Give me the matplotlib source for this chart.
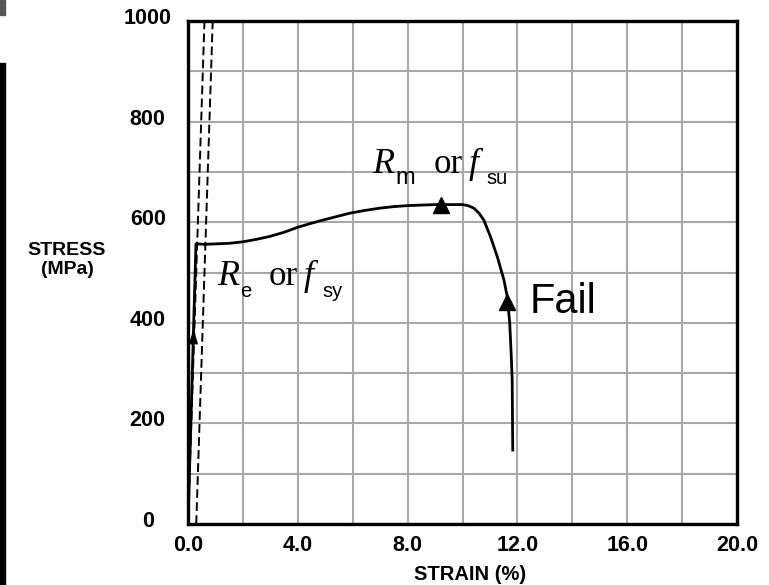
import matplotlib
matplotlib.use("Agg")
import matplotlib.pyplot as plt
from matplotlib.patches import Rectangle
from matplotlib.ticker import MultipleLocator
from matplotlib.transforms import ScaledTranslation

SANS = "Liberation Sans"
SERIF = "Liberation Serif"

# stress-strain curve (strain %, stress MPa)
strain = [0.0, 0.29, 0.6, 1.06, 1.5, 2.0, 2.5, 3.0, 3.5, 4.0, 4.5, 4.9, 5.4,
          5.9, 6.4, 7.0, 7.5, 8.0, 8.5, 9.0, 9.5, 10.0, 10.2, 10.41, 10.6,
          10.78, 11.02, 11.27, 11.51, 11.63, 11.72, 11.78, 11.81, 11.83]
stress = [0, 557, 556, 557, 558, 561, 566, 572, 580, 590, 598, 604, 611,
          618, 623, 628, 631, 633, 634, 635, 635, 635, 633, 628, 618,
          604, 571, 531, 485, 452, 400, 330, 286, 147]

# elastic reference lines (dashed)
offset_a_strain = [0.0, 0.6]
offset_a_stress = [0, 1000]
offset_b_strain = [0.3, 0.9]
offset_b_stress = [0, 1000]

# arrowheads sitting on the curve
arrow_strain = [9.2, 11.62]
arrow_stress = [635, 442]
elastic_arrow_strain = [0.2]
elastic_arrow_stress = [372]

x_ticks = [0, 4, 8, 12, 16, 20]
x_tick_labels = ["0.0", "4.0", "8.0", "12.0", "16.0", "20.0"]
y_ticks = [0, 200, 400, 600, 800, 1000]


def add_label(ax, x, y, text, family, size, style="normal", weight="normal"):
    ax.text(x, y, text, family=family, fontsize=size, style=style, weight=weight,
            ha="left", va="baseline", color="black", zorder=6)


def main():
    fig = plt.figure(figsize=(7.69, 5.85), dpi=100)
    fig.patch.set_facecolor("white")
    ax = fig.add_axes([188 / 769, 1 - 524 / 585, 549 / 769, 503 / 585])

    # scan artifacts at left edge of the original
    fig.patches.append(Rectangle((0, 1 - 15 / 585), 5 / 769, 15 / 585,
                                 transform=fig.transFigure, color="#555555", zorder=0))
    fig.patches.append(Rectangle((0, 0), 5 / 769, 1 - 63 / 585,
                                 transform=fig.transFigure, color="black", zorder=0))

    ax.set_xlim(0, 20)
    ax.set_ylim(0, 1000)
    ax.xaxis.set_major_locator(MultipleLocator(4))
    ax.xaxis.set_minor_locator(MultipleLocator(2))
    ax.yaxis.set_major_locator(MultipleLocator(200))
    ax.yaxis.set_minor_locator(MultipleLocator(100))
    ax.grid(True, which="both", color="#a8a8a8", linewidth=1.5, zorder=0)
    ax.set_axisbelow(True)

    for side in ax.spines.values():
        side.set_linewidth(2.4)
        side.set_color("black")

    ax.plot(offset_a_strain, offset_a_stress, color="black", linewidth=1.4,
            dashes=(4.5, 2.2), zorder=3)
    ax.plot(offset_b_strain, offset_b_stress, color="black", linewidth=1.4,
            dashes=(4.5, 2.2), zorder=3)
    ax.plot(strain, stress, color="black", linewidth=2.0, zorder=4,
            solid_joinstyle="round")
    ax.plot(arrow_strain, arrow_stress, linestyle="none", marker="^",
            markersize=12, color="black", zorder=5)
    ax.plot(elastic_arrow_strain, elastic_arrow_stress, linestyle="none",
            marker=[(0, 1), (-0.6, -1), (0.6, -1), (0, 1)], markersize=9,
            color="black", zorder=5)

    ax.set_xticks(x_ticks)
    ax.set_xticklabels(x_tick_labels)
    ax.set_yticks(y_ticks)
    ax.tick_params(which="both", length=0)
    ax.tick_params(axis="x", pad=8)
    ax.tick_params(axis="y", pad=29)
    for lab in ax.get_xticklabels() + ax.get_yticklabels():
        lab.set_family(SANS)
        lab.set_fontweight("bold")
        lab.set_fontsize(15.5)
    shift = ScaledTranslation(0, 0.05, fig.dpi_scale_trans)
    for lab in ax.get_yticklabels():
        lab.set_horizontalalignment("center")
        lab.set_transform(lab.get_transform() + shift)

    fig.text(470 / 769, 1 - 574 / 585, "STRAIN (%)", family=SANS, weight="bold",
             fontsize=14.5, ha="center", va="center")
    fig.text(67 / 769, 1 - 260 / 585, "STRESS\n(MPa)", family=SANS, weight="bold",
             fontsize=14, ha="center", va="center", linespacing=1.15)

    # yield label
    add_label(ax, 1.06, 475, "R", SERIF, 26, style="italic")
    add_label(ax, 1.90, 451, "e", SANS, 14.5)
    add_label(ax, 2.92, 475, "or", SERIF, 25)
    add_label(ax, 4.20, 475, "f", SERIF, 26, style="italic")
    add_label(ax, 4.89, 451, "sy", SANS, 14.5)

    # ultimate label
    add_label(ax, 6.72, 698, "R", SERIF, 26, style="italic")
    add_label(ax, 7.55, 676, "m", SANS, 17)
    add_label(ax, 8.94, 698, "or", SERIF, 25)
    add_label(ax, 10.22, 698, "f", SERIF, 26, style="italic")
    add_label(ax, 10.88, 676, "su", SANS, 14.5)

    add_label(ax, 12.45, 419, "Fail", SANS, 30)

    fig.savefig("out.png", dpi=100, facecolor="white")
    plt.close(fig)


if __name__ == "__main__":
    main()
